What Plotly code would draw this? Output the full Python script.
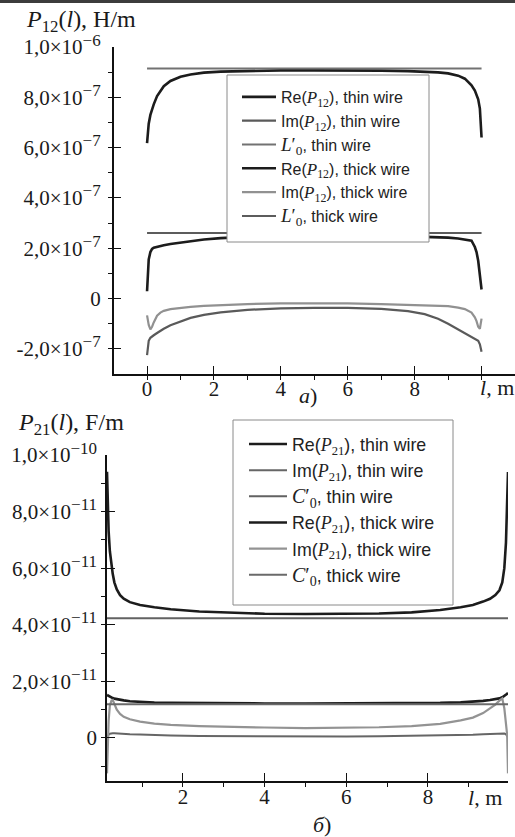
import plotly.graph_objects as go

# ---------------- panel a): P12(l), H/m ----------------
l_a = [0, 0.02, 0.05, 0.1, 0.15, 0.2, 0.3, 0.4, 0.5, 0.7, 1.0, 1.3, 1.7, 2.2, 3, 4, 5, 6,
       7, 7.8, 8.3, 8.7, 9.0, 9.3, 9.5, 9.7, 9.8, 9.85, 9.9, 9.95, 10]
re_p12_thin = [6.18e-7, 6.55e-7, 6.95e-7, 7.30e-7, 7.55e-7, 7.72e-7, 8.05e-7, 8.27e-7, 8.44e-7,
               8.65e-7, 8.82e-7, 8.91e-7, 8.98e-7, 9.02e-7, 9.05e-7, 9.07e-7, 9.07e-7, 9.07e-7,
               9.06e-7, 9.04e-7, 9.02e-7, 8.99e-7, 8.95e-7, 8.86e-7, 8.74e-7, 8.48e-7, 8.27e-7,
               8.12e-7, 7.92e-7, 7.55e-7, 6.40e-7]
im_p12_thin = [-2.25e-7, -1.85e-7, -1.68e-7, -1.56e-7, -1.50e-7, -1.46e-7, -1.37e-7, -1.28e-7,
               -1.20e-7, -1.06e-7, -0.90e-7, -0.77e-7, -0.65e-7, -0.55e-7, -0.45e-7, -0.39e-7,
               -0.37e-7, -0.37e-7, -0.41e-7, -0.50e-7, -0.62e-7, -0.80e-7, -1.00e-7, -1.22e-7,
               -1.38e-7, -1.52e-7, -1.58e-7, -1.62e-7, -1.68e-7, -1.82e-7, -2.12e-7]
re_p12_thick = [0.29e-7, 1.00e-7, 1.55e-7, 1.85e-7, 1.97e-7, 2.02e-7, 2.06e-7, 2.09e-7, 2.12e-7,
                2.17e-7, 2.23e-7, 2.29e-7, 2.35e-7, 2.40e-7, 2.45e-7, 2.48e-7, 2.49e-7, 2.49e-7,
                2.48e-7, 2.47e-7, 2.46e-7, 2.45e-7, 2.42e-7, 2.39e-7, 2.36e-7, 2.30e-7, 2.05e-7,
                1.85e-7, 1.50e-7, 1.00e-7, 0.36e-7]
im_p12_thick = [-0.67e-7, -0.85e-7, -1.05e-7, -1.23e-7, -1.12e-7, -0.95e-7, -0.68e-7, -0.56e-7,
                -0.49e-7, -0.42e-7, -0.37e-7, -0.33e-7, -0.29e-7, -0.26e-7, -0.22e-7, -0.19e-7,
                -0.18e-7, -0.19e-7, -0.22e-7, -0.25e-7, -0.27e-7, -0.29e-7, -0.30e-7, -0.36e-7,
                -0.42e-7, -0.56e-7, -0.75e-7, -0.90e-7, -1.12e-7, -1.20e-7, -0.80e-7]
l0_span = [0, 10]
l0_thin = [9.15e-7, 9.15e-7]
l0_thick = [2.61e-7, 2.61e-7]

a_ytick_vals = [-2e-7, 0, 2e-7, 4e-7, 6e-7, 8e-7, 1e-6]
a_ytick_mant = ["-2,0", "0", "2,0", "4,0", "6,0", "8,0", "1,0"]
a_ytick_exp = ["−7", "", "−7", "−7", "−7", "−7", "−6"]
a_xtick_vals = [0, 2, 4, 6, 8, 10]
a_xtick_text = ["0", "2", "4", "6", "8", ""]

# ---------------- panel б): P21(l), F/m ----------------
l_b = [0.14, 0.16, 0.18, 0.21, 0.25, 0.28, 0.32, 0.38, 0.46, 0.55, 0.7, 0.95, 1.3, 1.7, 2.4,
       3.2, 4, 5, 6, 6.8, 7.6, 8.3, 8.8, 9.1, 9.35, 9.52, 9.65, 9.75, 9.82, 9.87, 9.91, 9.94, 9.96]
re_p21_thin = [9.41e-11, 8.20e-11, 7.30e-11, 6.60e-11, 6.10e-11, 5.80e-11, 5.50e-11, 5.25e-11,
               5.05e-11, 4.92e-11, 4.80e-11, 4.70e-11, 4.62e-11, 4.55e-11, 4.47e-11, 4.42e-11,
               4.39e-11, 4.38e-11, 4.38e-11, 4.40e-11, 4.44e-11, 4.52e-11, 4.62e-11, 4.70e-11,
               4.82e-11, 4.92e-11, 5.05e-11, 5.22e-11, 5.50e-11, 6.00e-11, 6.90e-11, 8.20e-11,
               9.40e-11]
im_p21_thin = [0.02e-11, 0.08e-11, 0.12e-11, 0.15e-11, 0.17e-11, 0.17e-11, 0.17e-11, 0.16e-11,
               0.15e-11, 0.14e-11, 0.13e-11, 0.12e-11, 0.10e-11, 0.09e-11, 0.07e-11, 0.06e-11,
               0.05e-11, 0.05e-11, 0.05e-11, 0.06e-11, 0.07e-11, 0.09e-11, 0.10e-11, 0.11e-11,
               0.13e-11, 0.14e-11, 0.15e-11, 0.16e-11, 0.17e-11, 0.16e-11, 0.13e-11, 0.08e-11,
               0.02e-11]
re_p21_thick = [1.52e-11, 1.50e-11, 1.48e-11, 1.46e-11, 1.43e-11, 1.41e-11, 1.39e-11, 1.37e-11,
                1.35e-11, 1.33e-11, 1.30e-11, 1.27e-11, 1.25e-11, 1.24e-11, 1.23e-11, 1.22e-11,
                1.22e-11, 1.22e-11, 1.22e-11, 1.22e-11, 1.23e-11, 1.24e-11, 1.26e-11, 1.28e-11,
                1.31e-11, 1.34e-11, 1.37e-11, 1.40e-11, 1.44e-11, 1.48e-11, 1.52e-11, 1.56e-11,
                1.60e-11]
im_p21_thick = [-1.25e-11, -0.30e-11, 0.60e-11, 1.15e-11, 1.32e-11, 1.34e-11, 1.20e-11, 1.00e-11,
                0.85e-11, 0.75e-11, 0.66e-11, 0.58e-11, 0.51e-11, 0.46e-11, 0.42e-11, 0.39e-11,
                0.37e-11, 0.35e-11, 0.36e-11, 0.38e-11, 0.42e-11, 0.50e-11, 0.62e-11, 0.72e-11,
                0.88e-11, 1.05e-11, 1.18e-11, 1.32e-11, 1.40e-11, 1.05e-11, 0.60e-11, 0.10e-11,
                -1.25e-11]
c0_span = [0.14, 9.96]
c0_thin = [4.23e-11, 4.23e-11]
c0_thick = [1.19e-11, 1.19e-11]

b_ytick_vals = [0, 2e-11, 4e-11, 6e-11, 8e-11, 1e-10]
b_ytick_mant = ["0", "2,0", "4,0", "6,0", "8,0", "1,0"]
b_ytick_exp = ["", "−11", "−11", "−11", "−11", "−10"]
b_xtick_vals = [2, 4, 6, 8]
b_xtick_text = ["2", "4", "6", "8"]

# ---------------- styling ----------------
W, H = 515, 837
SERIF = "Liberation Serif"
SANS = "Liberation Sans"
BLACK = "#1c1c1c"


def sci_labels(mants, exps):
    out = []
    for m, e in zip(mants, exps):
        if e:
            out.append(f'{m}×10<sup><span style="font-size:17px">{e}</span></sup>')
        else:
            out.append(m)
    return out


def sym(letter, sub, size):
    return (f'<span style="font-family:{SERIF};font-size:{size}px"><i>{letter}</i>'
            f'<sub>{sub}</sub></span>')


def primed(letter, size):
    return (f'<span style="font-family:{SERIF};font-size:{size}px"><i>{letter}</i>′'
            f'<sub>0</sub></span>')


fig = go.Figure()


def add(x, y, name, color, width, axis, legend):
    fig.add_trace(go.Scatter(x=x, y=y, mode="lines", name=name,
                             line=dict(color=color, width=width),
                             xaxis="x" if axis == 1 else "x2",
                             yaxis="y" if axis == 1 else "y2",
                             legend=legend))


add(l_a, re_p12_thin, "Re(" + sym("P", "12", 17) + "), thin wire", BLACK, 2.6, 1, "legend")
add(l_a, im_p12_thin, "Im(" + sym("P", "12", 17) + "), thin wire", "#5a5a5a", 2.2, 1, "legend")
add(l0_span, l0_thin, primed("L", 19) + ", thin wire", "#727272", 2.0, 1, "legend")
add(l_a, re_p12_thick, "Re(" + sym("P", "12", 17) + "), thick wire", BLACK, 2.6, 1, "legend")
add(l_a, im_p12_thick, "Im(" + sym("P", "12", 17) + "), thick wire", "#919191", 2.2, 1, "legend")
add(l0_span, l0_thick, primed("L", 19) + ", thick wire", "#5c5c5c", 2.0, 1, "legend")

add(l_b, re_p21_thin, "Re(" + sym("P", "21", 18) + "), thin wire", BLACK, 2.6, 2, "legend2")
add(l_b, im_p21_thin, "Im(" + sym("P", "21", 18) + "), thin wire", "#666666", 2.0, 2, "legend2")
add(c0_span, c0_thin, primed("C", 20) + ", thin wire", "#626262", 2.0, 2, "legend2")
add(l_b, re_p21_thick, "Re(" + sym("P", "21", 18) + "), thick wire", BLACK, 2.6, 2, "legend2")
add(l_b, im_p21_thick, "Im(" + sym("P", "21", 18) + "), thick wire", "#939393", 2.2, 2, "legend2")
add(c0_span, c0_thick, primed("C", 20) + ", thick wire", "#6a6a6a", 2.0, 2, "legend2")

axis_common = dict(showline=True, linecolor="#111", linewidth=1.5, showgrid=False,
                   zeroline=False, ticks="inside", ticklen=8, tickwidth=1.3, tickcolor="#111",
                   mirror=False, automargin=False)
tickfont = dict(family=SERIF, size=21, color="#1a1a1a")
minor_x = dict(dtick=1, tick0=0, ticks="outside", ticklen=4, tickcolor="#111")

fig.update_layout(
    template="none",
    width=W, height=H, margin=dict(l=0, r=0, t=0, b=0, pad=0, autoexpand=False),
    paper_bgcolor="white", plot_bgcolor="white", showlegend=True,
    xaxis=dict(domain=[113.6 / W, 1.0], range=[-1, 11], anchor="y",
               tickvals=a_xtick_vals, ticktext=a_xtick_text, tickfont=tickfont,
               minor=minor_x, ticklabelstandoff=-5, **axis_common),
    yaxis=dict(domain=[(H - 374) / H, (H - 47) / H], range=[-3e-7, 1e-6], anchor="x",
               tickvals=a_ytick_vals, ticktext=sci_labels(a_ytick_mant, a_ytick_exp),
               tickfont=tickfont,
               minor=dict(dtick=1e-7, tick0=0, ticks="outside", ticklen=4, tickcolor="#111"),
               ticklabelstandoff=7, **axis_common),
    xaxis2=dict(domain=[107 / W, 508 / W], range=[0.14, 9.96], anchor="y2",
                tickvals=b_xtick_vals, ticktext=b_xtick_text, tickfont=tickfont,
                minor=minor_x, ticklabelstandoff=-4, **axis_common),
    yaxis2=dict(domain=[(H - 781) / H, (H - 455) / H], range=[-1.52e-11, 1.0e-10], anchor="x2",
                tickvals=b_ytick_vals, ticktext=sci_labels(b_ytick_mant, b_ytick_exp),
                tickfont=tickfont,
                minor=dict(dtick=1e-11, tick0=0, ticks="outside", ticklen=4, tickcolor="#111"),
                ticklabelstandoff=4, **axis_common),
    legend=dict(x=237 / W, y=1 - 80 / H, xanchor="left", yanchor="top",
                bgcolor="rgba(0,0,0,0)", borderwidth=0, itemwidth=34,
                font=dict(family=SANS, size=16, color="#222"), traceorder="normal"),
    legend2=dict(x=244 / W, y=1 - 426 / H, xanchor="left", yanchor="top",
                 bgcolor="rgba(0,0,0,0)", borderwidth=0, itemwidth=38,
                 font=dict(family=SANS, size=17.8, color="#222"), traceorder="normal"),
)

# legend frames
for x0, y0, x1, y1 in [(227, 75, 429, 242), (233, 420, 453, 605)]:
    fig.add_shape(type="rect", xref="paper", yref="paper",
                  x0=x0 / W, x1=x1 / W, y0=1 - y1 / H, y1=1 - y0 / H,
                  fillcolor="white", line=dict(color="#8a8a8a", width=1), layer="above")

label_font = dict(family=SERIF, size=24, color="#1a1a1a")
small_font = dict(family=SERIF, size=22, color="#1a1a1a")
annotations = [
    dict(text="<i>P</i><sub>12</sub>(<i>l</i>), H/m", x=24 / W, y=1 - 21 / H, font=label_font),
    dict(text="<i>P</i><sub>21</sub>(<i>l</i>), F/m", x=16 / W, y=1 - 424 / H, font=label_font),
    dict(text="<i>l</i>, m", x=478 / W, y=1 - 387 / H, font=small_font),
    dict(text="<i>l</i>, m", x=466 / W, y=1 - 797 / H, font=small_font),
    dict(text="<i>а</i>)", x=297 / W, y=1 - 395 / H, font=small_font),
    dict(text="<i>б</i>)", x=311 / W, y=1 - 824 / H, font=small_font),
]
for a in annotations:
    fig.add_annotation(xref="paper", yref="paper", xanchor="left", yanchor="middle",
                       showarrow=False, **a)

# thin dark band along the top edge
fig.add_shape(type="rect", xref="paper", yref="paper", x0=0, x1=1, y0=1 - 3 / H, y1=1,
              fillcolor="#3c3c3c", line=dict(width=0), layer="above")

fig.write_html("out.html")
